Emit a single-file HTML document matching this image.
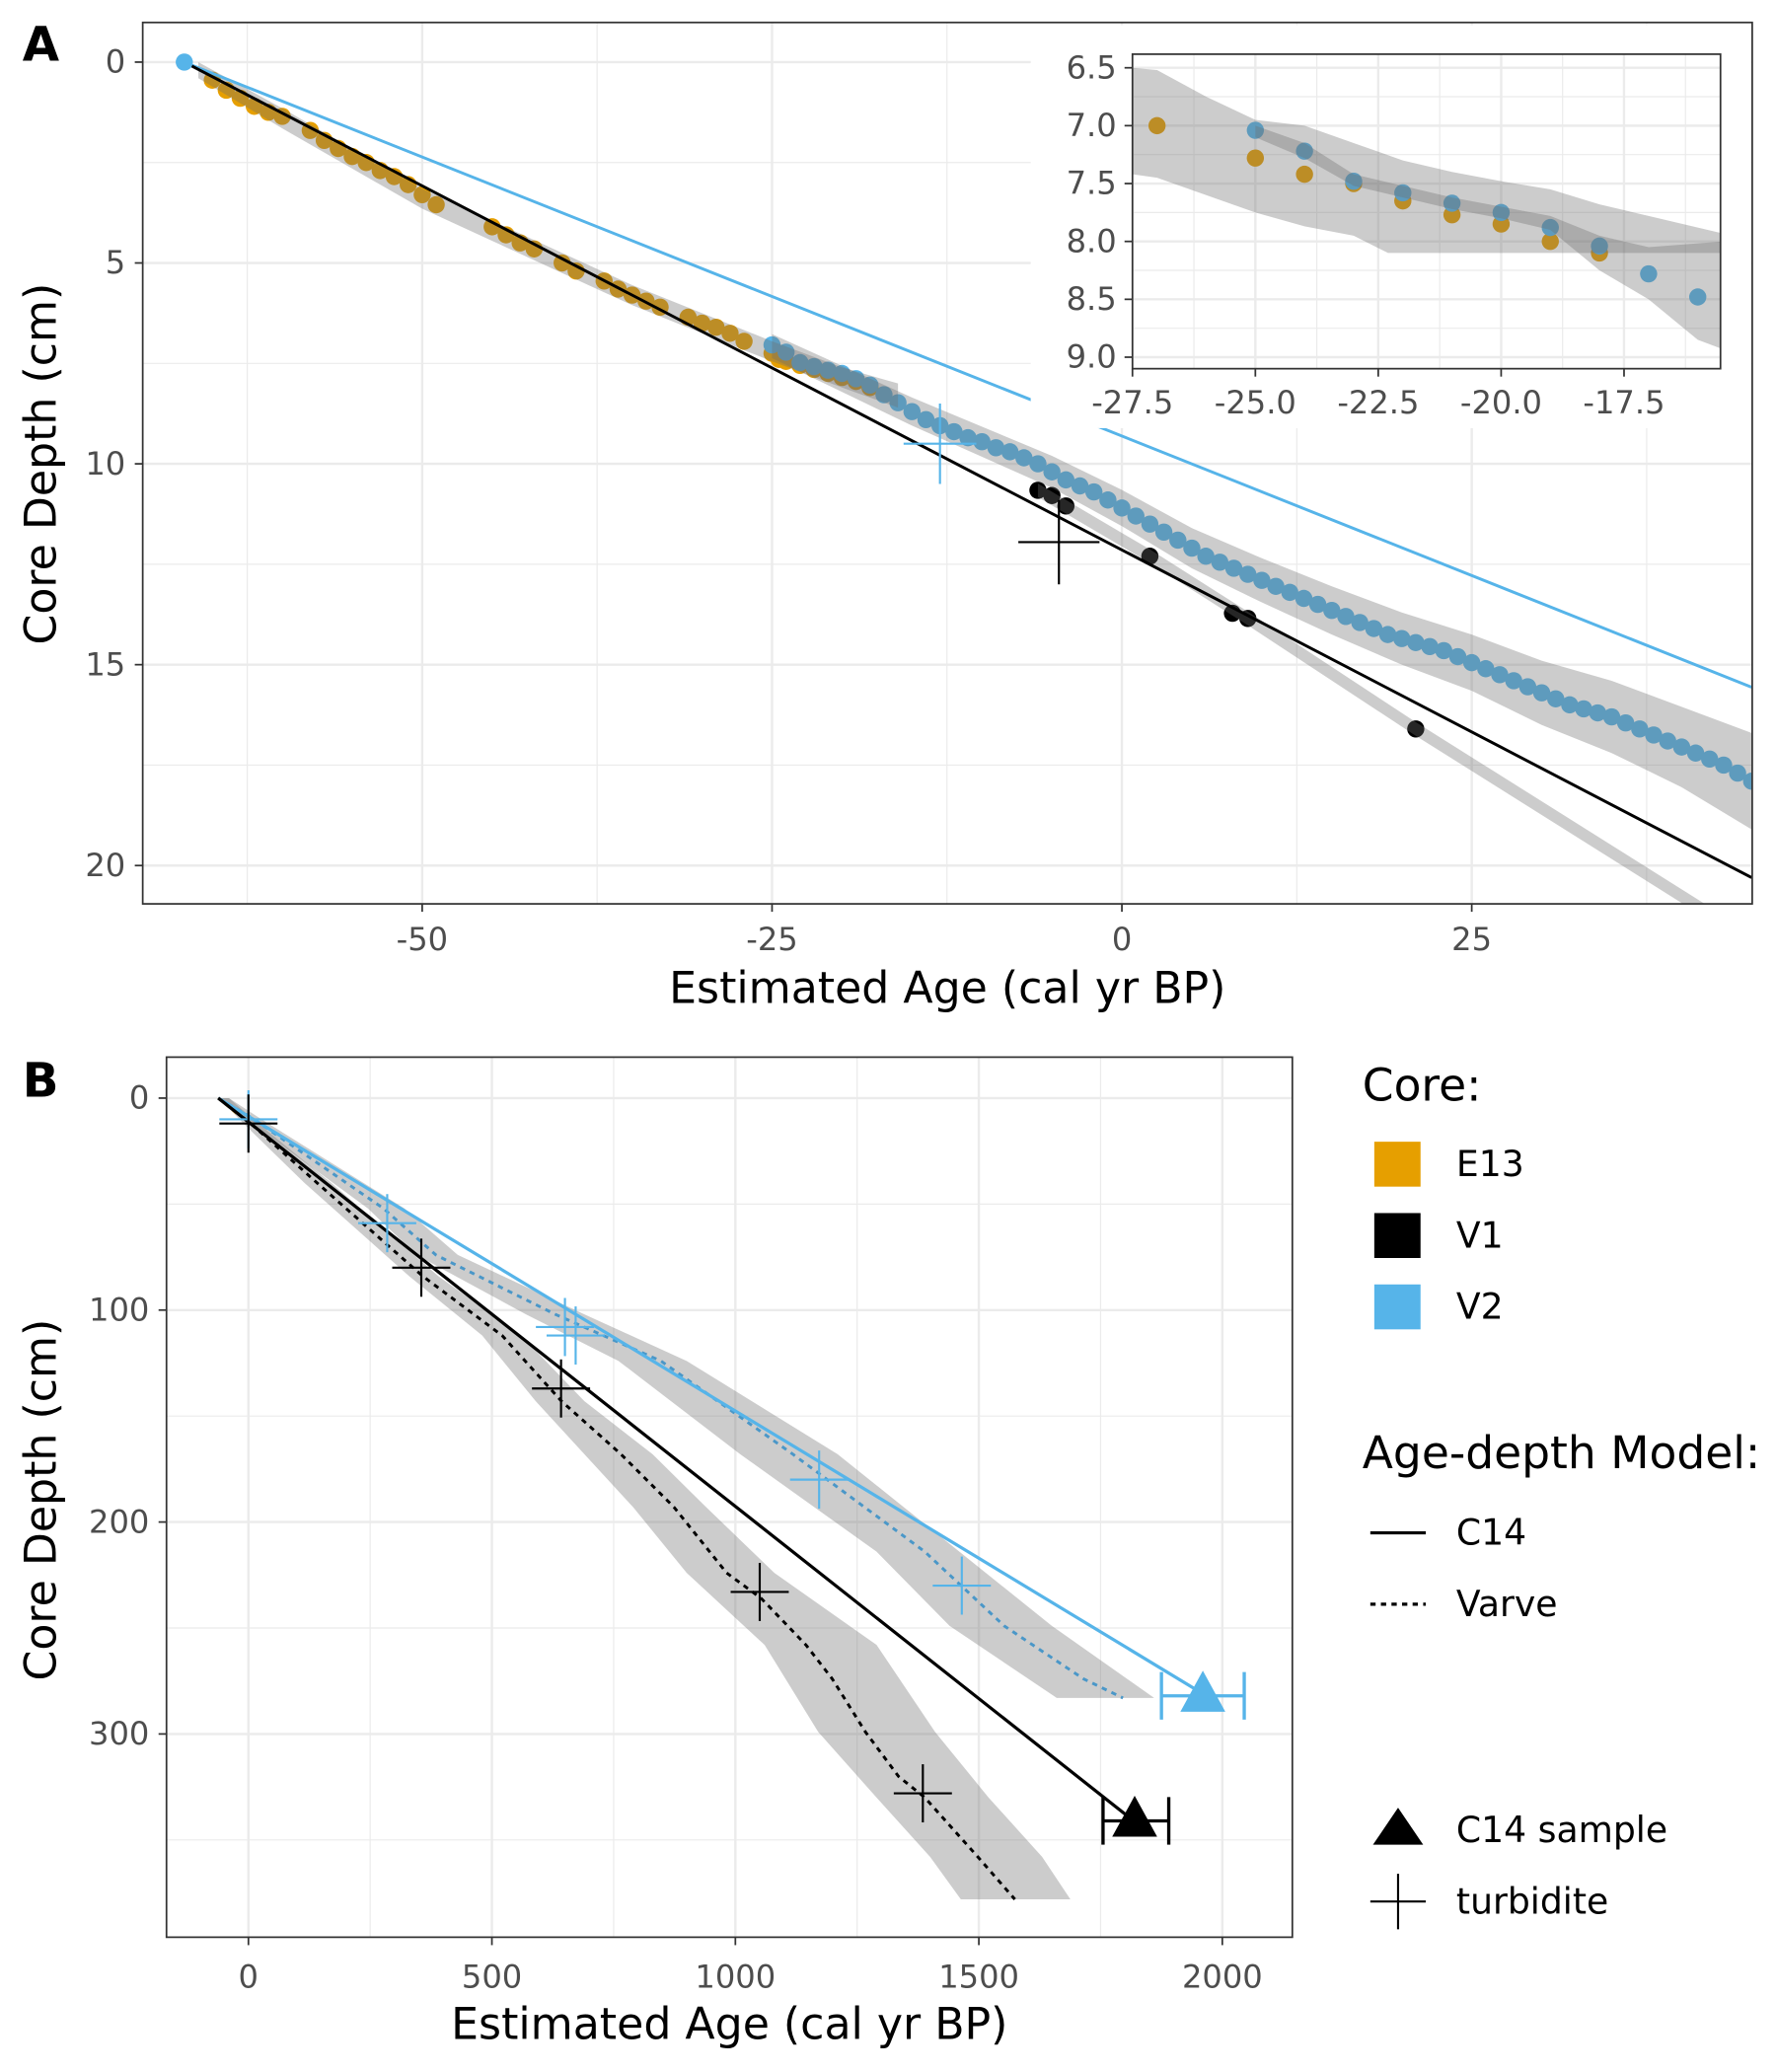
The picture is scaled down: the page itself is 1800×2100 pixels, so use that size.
<!DOCTYPE html>
<html><head><meta charset="utf-8"><style>
html,body{margin:0;padding:0;background:#fff}
svg{display:block;font-family:"DejaVu Sans","Liberation Sans",sans-serif}
</style></head><body>
<svg id="fig" width="1800" height="2100" viewBox="0 0 1344 1568" xmlns="http://www.w3.org/2000/svg">
<defs>
<clipPath id="clipA"><rect x="108" y="17" width="1218" height="667"/></clipPath>
<clipPath id="clipI"><rect x="857" y="41" width="445" height="238"/></clipPath>
<clipPath id="clipB"><rect x="126" y="800" width="852" height="666"/></clipPath>
</defs>
</svg>
<script>
// ---------- Panel A data ----------
const e13Age=[-65,-64,-63,-62,-61,-60,-58,-57,-56,-55,-54,-53,-52,-51,-50,-49,-45,-44,-43,-42,-40,-39,-37,-36,-35,-34,-33,-31,-30,-29,-28,-27,-25,-24.5,-24,-23,-22,-21,-20,-19,-18];
const e13Depth=[0.45,0.7,0.9,1.1,1.25,1.35,1.7,1.95,2.15,2.35,2.5,2.7,2.85,3.05,3.3,3.55,4.1,4.3,4.5,4.65,5.0,5.2,5.45,5.65,5.8,5.95,6.1,6.35,6.5,6.6,6.75,6.95,7.25,7.4,7.45,7.55,7.65,7.75,7.85,7.95,8.1];
const v2Age=[-25,-24,-23,-22,-21,-20,-19,-18,-17,-16,-15,-14,-13,-12,-11,-10,-9,-8,-7,-6,-5,-4,-3,-2,-1,0,1,2,3,4,5,6,7,8,9,10,11,12,13,14,15,16,17,18,19,20,21,22,23,24,25,26,27,28,29,30,31,32,33,34,35,36,37,38,39,40,41,42,43,44,45];
const v2Depth=[7.04,7.22,7.48,7.58,7.67,7.75,7.88,8.04,8.28,8.48,8.7,8.9,9.05,9.2,9.35,9.45,9.6,9.7,9.85,10.0,10.2,10.4,10.55,10.7,10.9,11.1,11.3,11.5,11.7,11.9,12.1,12.3,12.45,12.6,12.75,12.9,13.05,13.2,13.35,13.5,13.65,13.8,13.95,14.1,14.25,14.35,14.45,14.55,14.65,14.8,14.95,15.1,15.25,15.4,15.55,15.7,15.85,16.0,16.1,16.2,16.3,16.45,16.6,16.75,16.9,17.05,17.2,17.35,17.5,17.7,17.9];
const v1Age=[-6.0,-5.0,-4.0,2.0,7.9,9.0,21.0];
const v1Depth=[10.66,10.79,11.05,12.3,13.72,13.85,16.6];
const e13RibAge=[-66,-60,-50,-45,-40,-35,-30,-25,-20,-16];
const e13RibMid=[0.2,1.4,3.4,4.2,5.0,5.8,6.5,7.2,7.85,8.3];
const e13RibHalf=[0.2,0.25,0.25,0.25,0.25,0.25,0.25,0.25,0.25,0.3];
const v2RibAge=[-25,-15,-5,0,5,10,15,20,25,30,35,40,45];
const v2RibMid=[7.07,8.7,10.2,11.1,12.1,12.9,13.65,14.35,14.95,15.7,16.3,17.05,17.9];
const v2RibHalf=[0.3,0.35,0.4,0.45,0.5,0.55,0.6,0.65,0.7,0.8,0.9,1.0,1.2];
const v1RibAge=[-6,2,9,21,42];
const v1RibMid=[10.66,12.3,13.85,16.6,21.2];
const v1RibHalf=[0.17,0.17,0.17,0.17,0.17];
const aC14Age=[-67,45];
const aC14V1=[0,20.3];
const aC14V2=[0,15.56];
const aTurbAge=[-13,-4.5];
const aTurbDepth=[9.5,11.95];
const aTurbErrAge=[2.6,2.9];
const aTurbErrDepth=[1.0,1.05];
const aXTicks=[-50,-25,0,25];
const aYTicks=[0,5,10,15,20];
// inset
const inE13Age=[-27,-25,-24,-23,-22,-21,-20,-19,-18];
const inE13Depth=[7.0,7.28,7.42,7.5,7.65,7.77,7.85,8.0,8.1];
const inV2Age=[-25,-24,-23,-22,-21,-20,-19,-18,-17,-16];
const inV2Depth=[7.04,7.22,7.48,7.58,7.67,7.75,7.88,8.04,8.28,8.48];
const inRib1Upper=[[-27.5,6.5],[-27,6.52],[-26,6.75],[-25,6.95],[-24,7.0],[-23,7.15],[-22,7.3],[-21,7.4],[-20,7.48],[-19,7.55],[-18,7.68],[-17,7.78],[-15.5,7.93]];
const inRib1Lower=[[-15.5,8.1],[-22.3,8.1],[-23,7.95],[-24,7.87],[-25,7.75],[-26,7.6],[-27,7.45],[-27.5,7.42]];
const inRib2Upper=[[-25,7.0],[-24,7.15],[-23,7.42],[-22,7.52],[-21,7.62],[-20,7.7],[-19,7.78],[-18,7.95],[-17,8.05],[-15.5,8.0]];
const inRib2Lower=[[-15.5,8.93],[-16,8.85],[-17,8.5],[-18,8.25],[-19,7.9],[-20,7.8],[-21,7.72],[-22,7.62],[-23,7.52],[-24,7.28],[-25,7.1]];
const inXTicks=[-27.5,-25.0,-22.5,-20.0,-17.5];
const inYTicks=[6.5,7.0,7.5,8.0,8.5,9.0];
// ---------- Panel B data ----------
const bV1VarveAge=[-62,5,141,358,521,643,765,874,982,1053,1145,1199,1267,1335,1389,1498,1574];
const bV1VarveDepth=[0,12,40,84,112,143,168,193,224,236,258,274,299,320,330,358,378];
const bV1RibDepth=[0,12,40,84,112,143,168,193,224,258,299,330,358,378];
const bV1RibLo=[-60,-10,115,330,480,590,690,790,900,1060,1170,1290,1400,1463];
const bV1RibHi=[-40,20,170,390,560,690,830,940,1080,1290,1410,1520,1630,1688];
const bV2VarveAge=[-62,5,277,385,630,847,1118,1389,1552,1715,1796];
const bV2VarveDepth=[0,9,52,74,102,124,168,214,249,274,283];
const bV2RibDepth=[0,9,52,74,102,124,168,214,249,283];
const bV2RibLo=[-60,-10,245,345,570,760,1010,1290,1440,1660];
const bV2RibHi=[-40,20,320,430,690,900,1210,1460,1650,1860];
const bC14V1Age=[-62,1818];
const bC14V1Depth=[0,341];
const bC14V2Age=[-62,1960];
const bC14V2Depth=[0,281];
const bTurbV2Age=[0,285,650,672,1172,1465];
const bTurbV2Depth=[10,59,108,112,180,230];
const bTurbV1Age=[0,355,642,1050,1385];
const bTurbV1Depth=[12,80,137,233,328];
const bSampleAge=[1960,1820];
const bSampleDepth=[282,341];
const bSampleLo=[1875,1755];
const bSampleHi=[2045,1890];
const bXTicks=[0,500,1000,1500,2000];
const bYTicks=[0,100,200,300];

const NS='http://www.w3.org/2000/svg';
const svg=document.getElementById('fig');
function mk(tag,attrs,parent){const e=document.createElementNS(NS,tag);for(const k in attrs)e.setAttribute(k,attrs[k]);(parent||svg).appendChild(e);return e;}
function txt(s,x,y,size,anchor,parent,fill,weight){const t=mk('text',{x:x,y:y,'font-size':size,'text-anchor':anchor||'start',fill:fill||'#000','font-weight':weight||'normal'},parent);t.textContent=s;return t;}

const TICK=24, TITLE=33, LEG=27, LEGT=34, PR=6.5;
const axA=a=>849+a*10.59, ayA=d=>47+d*30.4;
const axI=a=>857+(a+27.5)*37.2, ayI=d=>51.3+(d-6.5)*87.6;
const axB=a=>188+a*0.3685, ayB=d=>831+d*1.604;

function grid(g,x0,y0,x1,y1,xt,yt,sx,sy,minorX,minorY){
  minorX.forEach(v=>mk('line',{x1:sx(v),x2:sx(v),y1:y0,y2:y1,stroke:'#ebebeb','stroke-width':0.9},g));
  minorY.forEach(v=>mk('line',{x1:x0,x2:x1,y1:sy(v),y2:sy(v),stroke:'#ebebeb','stroke-width':0.9},g));
  xt.forEach(v=>mk('line',{x1:sx(v),x2:sx(v),y1:y0,y2:y1,stroke:'#ebebeb','stroke-width':1.8},g));
  yt.forEach(v=>mk('line',{x1:x0,x2:x1,y1:sy(v),y2:sy(v),stroke:'#ebebeb','stroke-width':1.8},g));
}
function ribbonPath(xs,mids,halfs,sx,sy){
  let up=xs.map((a,i)=>sx(a)+','+sy(mids[i]-halfs[i]));
  let lo=xs.map((a,i)=>sx(a)+','+sy(mids[i]+halfs[i])).reverse();
  return up.concat(lo).join(' ');
}
function cross(g,x,y,hx,hy,col,w){
  mk('line',{x1:x-hx,x2:x+hx,y1:y,y2:y,stroke:col,'stroke-width':w||1.5},g);
  mk('line',{x1:x,x2:x,y1:y-hy,y2:y+hy,stroke:col,'stroke-width':w||1.5},g);
}

// ===== Panel A =====
const gA=mk('g',{});


mk('rect',{x:108,y:17,width:1218,height:667,fill:'#fff'},gA);
const gAc=mk('g',{'clip-path':'url(#clipA)'},gA);
grid(gAc,108,17,1326,684,aXTicks,aYTicks,axA,ayA,[-62.5,-37.5,-12.5,12.5,37.5],[2.5,7.5,12.5,17.5]);
e13Age.forEach((a,i)=>{const c=mk('circle',{cx:axA(a),cy:ayA(e13Depth[i]),r:PR,fill:'#E69F00'},gAc);

});
v2Age.forEach((a,i)=>{const c=mk('circle',{cx:axA(a),cy:ayA(v2Depth[i]),r:PR,fill:'#56B4E9'},gAc);

});
v1Age.forEach((a,i)=>{const c=mk('circle',{cx:axA(a),cy:ayA(v1Depth[i]),r:PR,fill:'#000'},gAc);

});
[[e13RibAge,e13RibMid,e13RibHalf],[v2RibAge,v2RibMid,v2RibHalf],[v1RibAge,v1RibMid,v1RibHalf]].forEach(r=>{
  const p=mk('polygon',{points:ribbonPath(r[0],r[1],r[2],axA,ayA),fill:'rgba(110,110,110,0.35)'},gAc);
  
  
});
const lA1=mk('line',{x1:axA(aC14Age[0]),y1:ayA(aC14V2[0]),x2:axA(aC14Age[1]),y2:ayA(aC14V2[1]),stroke:'#56B4E9','stroke-width':2.2},gAc);


const lA2=mk('line',{x1:axA(aC14Age[0]),y1:ayA(aC14V1[0]),x2:axA(aC14Age[1]),y2:ayA(aC14V1[1]),stroke:'#000','stroke-width':2.2},gAc);


const c0=mk('circle',{cx:axA(-67),cy:ayA(0),r:PR,fill:'#56B4E9'},gAc);


['#56B4E9','#000'].forEach((col,i)=>{const g=mk('g',{},gAc);


cross(g,axA(aTurbAge[i]),ayA(aTurbDepth[i]),aTurbErrAge[i]*10.59,aTurbErrDepth[i]*30.4,col,1.6);});
mk('rect',{x:108,y:17,width:1218,height:667,fill:'none',stroke:'#333','stroke-width':1.3},gA);
aXTicks.forEach(v=>{mk('line',{x1:axA(v),x2:axA(v),y1:684,y2:690,stroke:'#333','stroke-width':1.3},gA);txt(String(v),axA(v),719,TICK,'middle',gA,'#4d4d4d');});
aYTicks.forEach(v=>{mk('line',{x1:102,x2:108,y1:ayA(v),y2:ayA(v),stroke:'#333','stroke-width':1.3},gA);txt(String(v),95,ayA(v)+8,TICK,'end',gA,'#4d4d4d');});
const xtA=txt('Estimated Age (cal yr BP)',717,759,TITLE,'middle',gA);


const ytA=txt('Core Depth (cm)',0,0,TITLE,'middle',gA);ytA.setAttribute('transform','translate(42,351) rotate(-90)');


const lblA=txt('A',17,46,36,'start',gA,'#000','bold');



// ===== Inset =====
const gI=mk('g',{});


mk('rect',{x:780,y:19,width:545,height:305,fill:'#fff'},gI);
const gIc=mk('g',{'clip-path':'url(#clipI)'},gI);
grid(gIc,857,41,1302,279,inXTicks,inYTicks,axI,ayI,[-26.25,-23.75,-21.25,-18.75,-16.25],[6.75,7.25,7.75,8.25,8.75]);
inE13Age.forEach((a,i)=>{const c=mk('circle',{cx:axI(a),cy:ayI(inE13Depth[i]),r:PR,fill:'#E69F00'},gIc);

});
inV2Age.forEach((a,i)=>{const c=mk('circle',{cx:axI(a),cy:ayI(inV2Depth[i]),r:PR,fill:'#56B4E9'},gIc);

});
[[inRib1Upper,inRib1Lower],[inRib2Upper,inRib2Lower]].forEach(r=>{
  const pts=r[0].concat(r[1]).map(p=>axI(p[0])+','+ayI(p[1])).join(' ');
  const p=mk('polygon',{points:pts,fill:'rgba(110,110,110,0.35)'},gIc);
  
  
});
mk('rect',{x:857,y:41,width:445,height:238,fill:'none',stroke:'#333','stroke-width':1.3},gI);
inXTicks.forEach(v=>{mk('line',{x1:axI(v),x2:axI(v),y1:279,y2:285,stroke:'#333','stroke-width':1.3},gI);txt(v.toFixed(1),axI(v),313,TICK,'middle',gI,'#4d4d4d');});
inYTicks.forEach(v=>{mk('line',{x1:851,x2:857,y1:ayI(v),y2:ayI(v),stroke:'#333','stroke-width':1.3},gI);txt(v.toFixed(1),845,ayI(v)+8,TICK,'end',gI,'#4d4d4d');});

// ===== Panel B =====
const gB=mk('g',{});


mk('rect',{x:126,y:800,width:852,height:666,fill:'#fff'},gB);
const gBc=mk('g',{'clip-path':'url(#clipB)'},gB);
grid(gBc,126,800,978,1466,bXTicks,bYTicks,axB,ayB,[250,750,1250,1750],[50,150,250,350]);
function ribB(depths,lo,hi){
  const up=depths.map((d,i)=>axB(lo[i])+','+ayB(d));
  const dn=depths.map((d,i)=>axB(hi[i])+','+ayB(d)).reverse();
  return up.concat(dn).join(' ');
}
const rb1=mk('polygon',{points:ribB(bV1RibDepth,bV1RibLo,bV1RibHi),fill:'rgba(110,110,110,0.35)'},gBc);


const rb2=mk('polygon',{points:ribB(bV2RibDepth,bV2RibLo,bV2RibHi),fill:'rgba(110,110,110,0.35)'},gBc);


const pl1=mk('polyline',{points:bV2VarveAge.map((a,i)=>axB(a)+','+ayB(bV2VarveDepth[i])).join(' '),fill:'none',stroke:'#4A97C8','stroke-width':2.2,'stroke-dasharray':'4,4'},gBc);


const pl2=mk('polyline',{points:bV1VarveAge.map((a,i)=>axB(a)+','+ayB(bV1VarveDepth[i])).join(' '),fill:'none',stroke:'#000','stroke-width':2.2,'stroke-dasharray':'4,4'},gBc);


const eo=mk('line',{x1:axB(-62),y1:ayB(0),x2:axB(-20),y2:ayB(8),stroke:'#E69F00','stroke-width':2,'stroke-dasharray':'4,3'},gBc);


const lb1=mk('line',{x1:axB(bC14V2Age[0]),y1:ayB(bC14V2Depth[0]),x2:axB(bC14V2Age[1]),y2:ayB(bC14V2Depth[1]),stroke:'#56B4E9','stroke-width':2.4},gBc);


const lb2=mk('line',{x1:axB(bC14V1Age[0]),y1:ayB(bC14V1Depth[0]),x2:axB(bC14V1Age[1]),y2:ayB(bC14V1Depth[1]),stroke:'#000','stroke-width':2.4},gBc);


bTurbV2Age.forEach((a,i)=>{const g=mk('g',{},gBc);


cross(g,axB(a),ayB(bTurbV2Depth[i]),22,22,'#56B4E9',1.6);});
bTurbV1Age.forEach((a,i)=>{const g=mk('g',{},gBc);


cross(g,axB(a),ayB(bTurbV1Depth[i]),22,22,'#000',1.6);});
['#56B4E9','#000'].forEach((col,i)=>{
  const g=mk('g',{},gBc);
  
  
  const x=axB(bSampleAge[i]),y=ayB(bSampleDepth[i]),l=axB(bSampleLo[i]),h=axB(bSampleHi[i]);
  mk('line',{x1:l,x2:h,y1:y,y2:y,stroke:col,'stroke-width':2.5},g);
  mk('line',{x1:l,x2:l,y1:y-18,y2:y+18,stroke:col,'stroke-width':2.5},g);
  mk('line',{x1:h,x2:h,y1:y-18,y2:y+18,stroke:col,'stroke-width':2.5},g);
  mk('polygon',{points:(x-17)+','+(y+12)+' '+(x+17)+','+(y+12)+' '+x+','+(y-19),fill:col},g);
});
mk('rect',{x:126,y:800,width:852,height:666,fill:'none',stroke:'#333','stroke-width':1.3},gB);
bXTicks.forEach(v=>{mk('line',{x1:axB(v),x2:axB(v),y1:1466,y2:1472,stroke:'#333','stroke-width':1.3},gB);txt(String(v),axB(v),1504,TICK,'middle',gB,'#4d4d4d');});
bYTicks.forEach(v=>{mk('line',{x1:120,x2:126,y1:ayB(v),y2:ayB(v),stroke:'#333','stroke-width':1.3},gB);txt(String(v),113,ayB(v)+8,TICK,'end',gB,'#4d4d4d');});
const xtB=txt('Estimated Age (cal yr BP)',552,1543,TITLE,'middle',gB);


const ytB=txt('Core Depth (cm)',0,0,TITLE,'middle',gB);ytB.setAttribute('transform','translate(42,1135) rotate(-90)');


const lblB=txt('B',17,830,36,'start',gB,'#000','bold');



// ===== Legend =====
const gL=mk('g',{});


txt('Core:',1031,833,LEGT,'start',gL);
[['E13','#E69F00',881],['V1','#000',935],['V2','#56B4E9',989]].forEach(e=>{
  const g=mk('g',{},gL);
  
  
  mk('rect',{x:1040,y:e[2]-17,width:35,height:34,fill:e[1]},g);
  txt(e[0],1102,e[2]+9,LEG,'start',g);
});
txt('Age-depth Model:',1031,1111,LEGT,'start',gL);
[['C14','',1160],['Varve','4,4',1214]].forEach(e=>{
  const g=mk('g',{},gL);
  
  
  const a={x1:1037,x2:1079,y1:e[2],y2:e[2],stroke:'#000','stroke-width':2.4};
  if(e[1])a['stroke-dasharray']=e[1];
  mk('line',a,g);
  txt(e[0],1102,e[2]+9,LEG,'start',g);
});
const gs=mk('g',{},gL);


mk('polygon',{points:'1039,1396 1077,1396 1058,1368',fill:'#000'},gs);
txt('C14 sample',1102,1394,LEG,'start',gs);
const gt=mk('g',{},gL);


cross(gt,1058,1439,21,21,'#000',1.6);
txt('turbidite',1102,1448,LEG,'start',gt);
</script>
</body></html>
